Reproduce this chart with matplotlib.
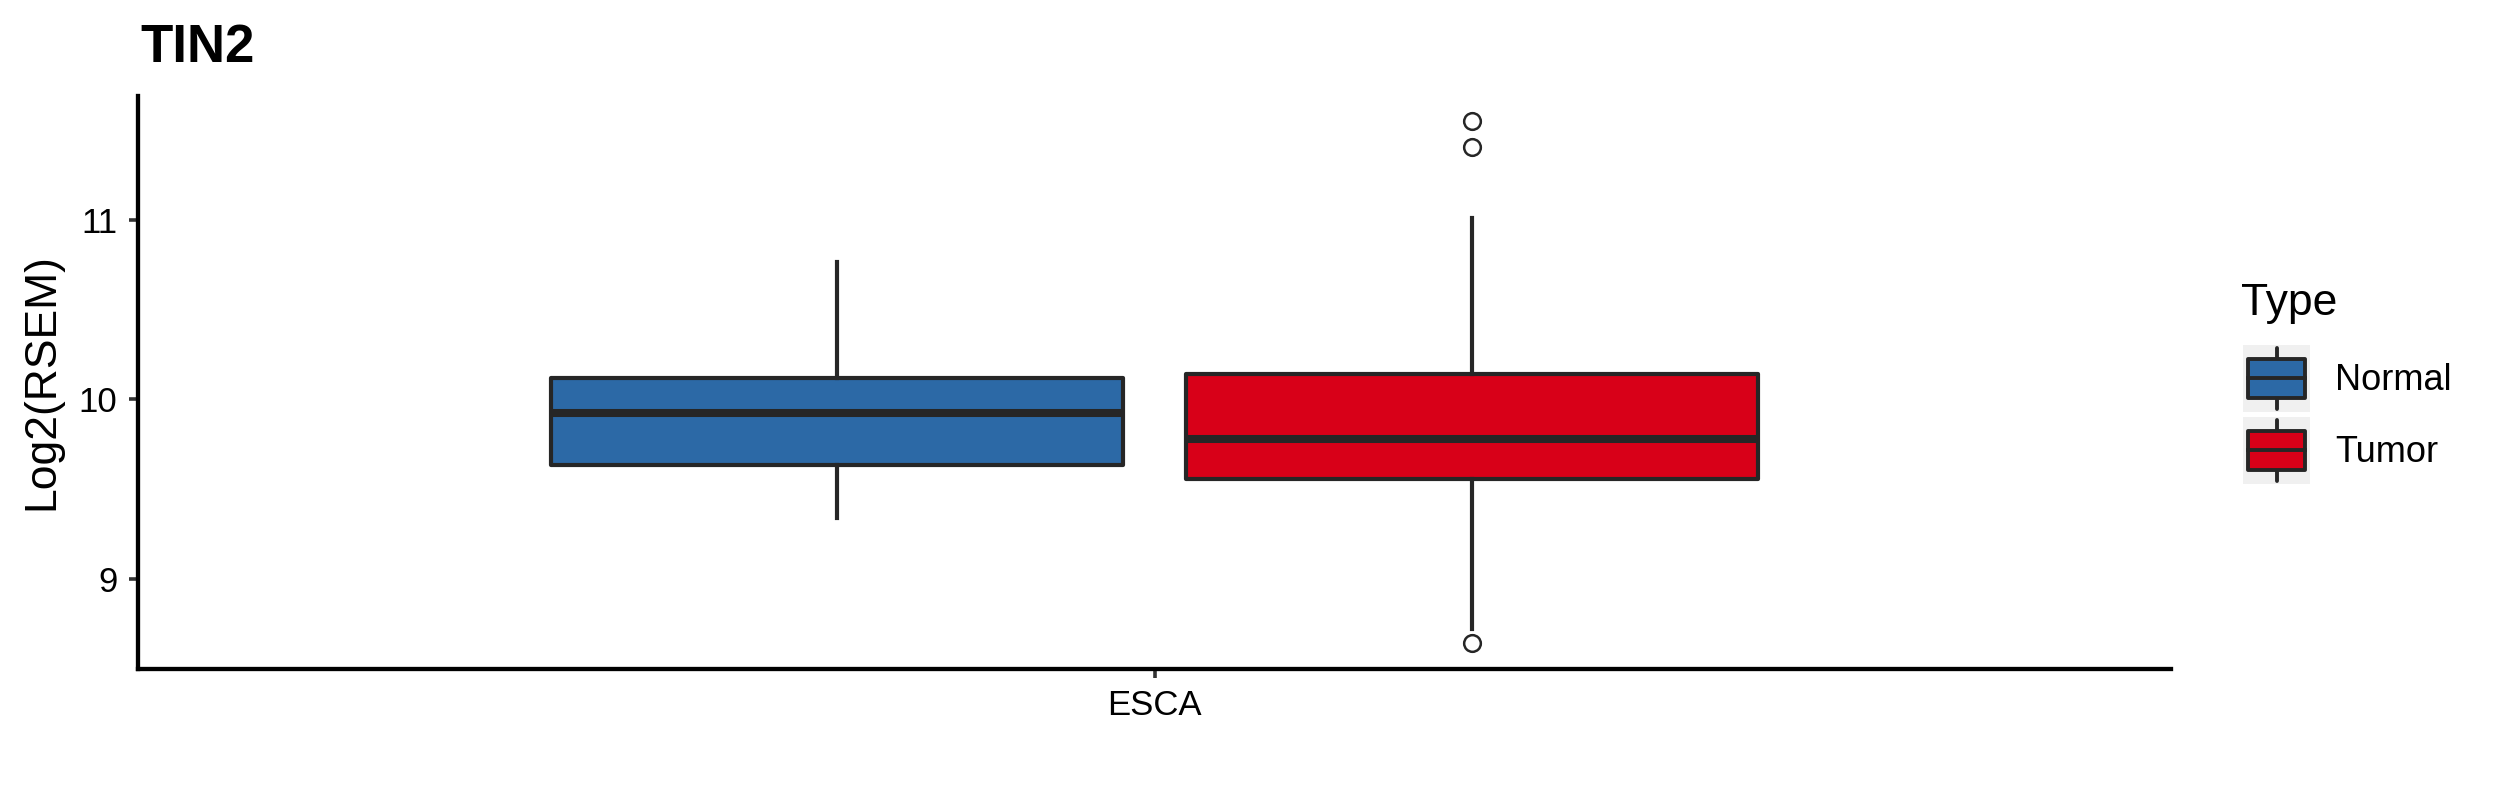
import matplotlib
matplotlib.use('Agg')
import matplotlib.pyplot as plt
from matplotlib.patches import Rectangle

plt.rcParams['font.family'] = ['Liberation Sans', 'DejaVu Sans']

# dados
gene = 'TIN2'
cancer = 'ESCA'
types = ['Normal', 'Tumor']
colors = ['#2C69A6', '#D80018']
q1 = [9.632, 9.554]
med = [9.926, 9.782]
q3 = [10.119, 10.139]
whislo = [9.340, 8.721]
whishi = [10.766, 11.013]
fliers = [[], [11.55, 11.405, 8.643]]

edge = '#262626'
W, H = 2499, 800

fig = plt.figure(figsize=(W / 100, H / 100), dpi=100)
ax = fig.add_axes([138 / W, 1 - 668.7 / H, (2171 - 138) / W, (668.7 - 96) / H])

stats = []
for i, t in enumerate(types):
    stats.append(dict(label=t, q1=q1[i], med=med[i], q3=q3[i],
                      whislo=whislo[i], whishi=whishi[i], fliers=fliers[i]))

offs = [-0.1875, 0.1875]
bp = ax.bxp(stats, positions=[1 + o for o in offs], widths=0.338,
            patch_artist=True, showcaps=False,
            boxprops=dict(edgecolor=edge, linewidth=3.0, joinstyle='round'),
            whiskerprops=dict(color=edge, linewidth=3.0),
            medianprops=dict(color=edge, linewidth=5.8, solid_capstyle='butt'),
            flierprops=dict(marker='o', markerfacecolor='none', markeredgecolor=edge,
                            markersize=12, markeredgewidth=1.8))
for patch, c in zip(bp['boxes'], colors):
    patch.set_facecolor(c)

ax.set_xlim(0.4, 1.6)
ax.set_ylim(8.50, 11.69)
ax.set_xticks([1])
ax.set_xticklabels([cancer])
ax.set_yticks([9, 10, 11])
ax.set_yticklabels(['9', '10', '11'])

for s in ['top', 'right']:
    ax.spines[s].set_visible(False)
for s in ['left', 'bottom']:
    ax.spines[s].set_linewidth(3.1)
    ax.spines[s].set_color('black')
ax.tick_params(length=6.7, width=2.6, color='#333333', labelsize=25, pad=8,
               labelcolor='black')

# títulos
fig.text(140 / W, 1 - 62 / H, gene, fontsize=38, fontweight='bold',
         ha='left', va='baseline')
fig.text(42 / W, 1 - 382 / H, 'Log2(RSEM)', fontsize=32, rotation=90,
         ha='center', va='center')

# legenda feita à mão (coordenadas em pixels)
lax = fig.add_axes([0, 0, 1, 1])
lax.set_xlim(0, W)
lax.set_ylim(H, 0)
lax.axis('off')
lax.text(2241, 315, 'Type', fontsize=32, ha='left', va='baseline')
for i, t in enumerate(types):
    y0 = 345 + i * 72
    lax.add_patch(Rectangle((2243, y0), 67, 67, facecolor='#F0F0F0',
                            edgecolor='none', zorder=1))
    cx = 2276.5
    lax.plot([cx, cx], [y0 + 3, y0 + 14], color=edge, lw=2.8,
             solid_capstyle='round', zorder=2)
    lax.plot([cx, cx], [y0 + 53, y0 + 64], color=edge, lw=2.8,
             solid_capstyle='round', zorder=2)
    lax.add_patch(Rectangle((2248, y0 + 14), 57, 39, facecolor=colors[i],
                            edgecolor=edge, lw=2.8, joinstyle='round', zorder=3))
    lax.plot([2248, 2305], [y0 + 33, y0 + 33], color=edge, lw=2.8, zorder=4)
    lax.text(2335, y0 + 35, t, fontsize=26, ha='left', va='center')

fig.savefig('out.png', dpi=100)
